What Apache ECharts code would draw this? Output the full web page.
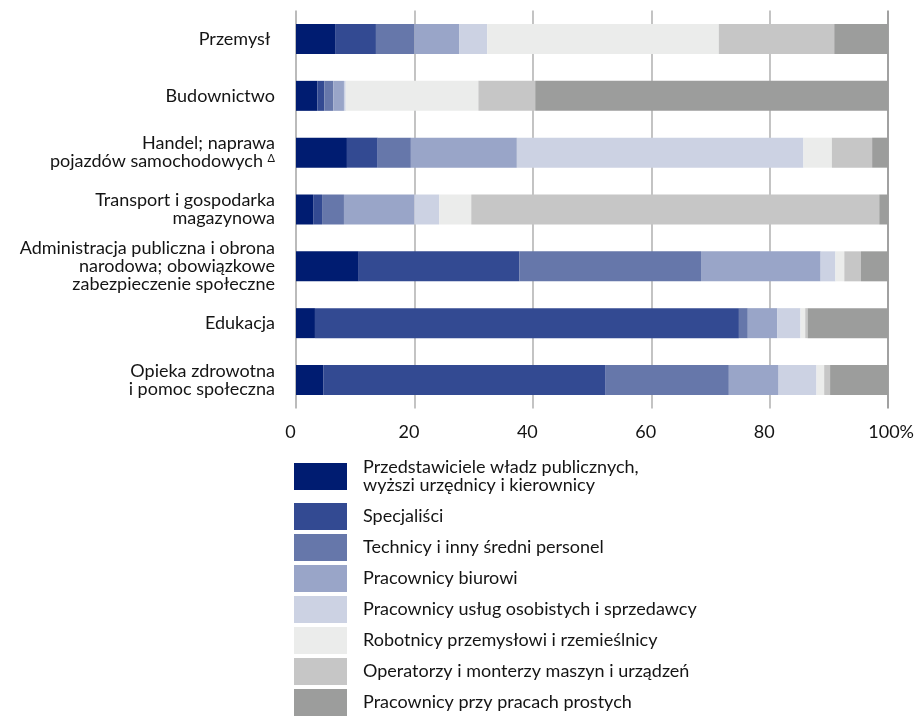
<!DOCTYPE html>
<html>
<head>
<meta charset="utf-8">
<script src="https://cdn.jsdelivr.net/npm/echarts@6/dist/echarts.min.js"></script>
<style>
html,body{margin:0;padding:0;background:#fff;}
#chart{width:917px;height:719px;}
</style>
</head>
<body>
<div id="chart"></div>
<script>
const categories = [
  'Przemysł ',
  'Budownictwo',
  'Handel; naprawa\npojazdów samochodowych Δ',
  'Transport i gospodarka\nmagazynowa',
  'Administracja publiczna i obrona\nnarodowa; obowiązkowe\nzabezpieczenie społeczne',
  'Edukacja',
  'Opieka zdrowotna\ni pomoc społeczna'
];
const seriesNames = [
  'Przedstawiciele władz publicznych,\nwyższi urzędnicy i kierownicy',
  'Specjaliści',
  'Technicy i inny średni personel',
  'Pracownicy biurowi',
  'Pracownicy usług osobistych i sprzedawcy',
  'Robotnicy przemysłowi i rzemieślnicy',
  'Operatorzy i monterzy maszyn i urządzeń',
  'Pracownicy przy pracach prostych'
];
const kierownicy  = [6.6, 3.6, 8.6, 2.9, 10.6, 3.2, 4.6];
const specjalisci = [6.9, 1.2, 5.2, 1.5, 27.1, 71.6, 47.7];
const technicy    = [6.5, 1.5, 5.6, 3.7, 30.7, 1.5, 20.8];
const biurowi     = [7.6, 1.8, 17.9, 11.9, 20.2, 5.0, 8.4];
const uslugi      = [4.7, 0.3, 48.4, 4.2, 2.5, 3.9, 6.4];
const robotnicy   = [39.1, 22.4, 4.8, 5.4, 1.5, 0.8, 1.3];
const operatorzy  = [19.5, 9.6, 6.8, 68.9, 2.8, 0.4, 1.0];
const proste      = [9.1, 59.6, 2.7, 1.5, 4.6, 13.6, 9.8];
const xTicks = [0, 20, 40, 60, 80, 100];

const values = [kierownicy, specjalisci, technicy, biurowi, uslugi, robotnicy, operatorzy, proste];
const colors = ['#001c71', '#334a92', '#6677aa', '#99a5c8', '#ccd2e3', '#ebeceb', '#c6c6c6', '#9c9d9c'];
const FONT = 'Lato, "Noto Sans", sans-serif';
const TXT = '#141414';

const chart = echarts.init(document.getElementById('chart'), null, {renderer: 'canvas'});
chart.setOption({
  animation: false,
  color: colors,
  textStyle: {fontFamily: FONT, color: TXT},
  grid: {left: 296, right: 23.5, top: 10.6, bottom: 310.6, containLabel: false},
  xAxis: {
    type: 'value', min: xTicks[0], max: xTicks[xTicks.length - 1], interval: 20,
    axisLine: {show: false}, axisTick: {show: false},
    splitLine: {show: true, lineStyle: {color: ['#aaaaaa', '#b5b5b5', '#b5b5b5', '#b5b5b5', '#b5b5b5', '#8a8a8a'], width: 1.6}},
    axisLabel: {
      margin: 15, fontSize: 18, fontFamily: FONT, color: TXT,
      formatter: function (v) { return v === 100 ? '{b|100%}' : '{a|' + v + '}'; },
      rich: {
        a: {fontSize: 18, fontFamily: FONT, color: TXT, padding: [0, 11, 0, 0]},
        b: {fontSize: 18, fontFamily: FONT, color: TXT, padding: [0, 0, 0, 6]}
      }
    }
  },
  yAxis: {
    type: 'category', data: categories, inverse: true,
    axisLine: {show: false}, axisTick: {show: false}, splitLine: {show: false},
    axisLabel: {
      margin: 21, fontSize: 18, lineHeight: 18, fontFamily: FONT, color: TXT, align: 'right',
      formatter: function (v) { return v.replace(' Δ', ' {sup|Δ}'); },
      rich: {
        sup: {fontSize: 11, lineHeight: 11, verticalAlign: 'top', fontFamily: FONT, color: TXT}
      }
    }
  },
  legend: [
    {
      orient: 'vertical', left: 294, top: 455.5, padding: 0,
      icon: 'rect', itemWidth: 53, itemHeight: 27, itemGap: 4,
      data: [seriesNames[0]],
      textStyle: {fontSize: 18, lineHeight: 18, fontFamily: FONT, color: TXT, padding: [6, 0, 0, 11]},
      selectedMode: false
    },
    {
      orient: 'vertical', left: 294, top: 503, padding: 0,
      icon: 'rect', itemWidth: 53, itemHeight: 27, itemGap: 4,
      data: seriesNames.slice(1),
      textStyle: {fontSize: 18, lineHeight: 18, fontFamily: FONT, color: TXT, padding: [0, 0, 0, 11]},
      selectedMode: false
    }
  ],
  series: seriesNames.map(function (name, i) {
    return {
      name: name, type: 'bar', stack: 'total', barWidth: 30,
      itemStyle: {color: colors[i]},
      emphasis: {disabled: true},
      data: values[i]
    };
  })
});
</script>
</body>
</html>
